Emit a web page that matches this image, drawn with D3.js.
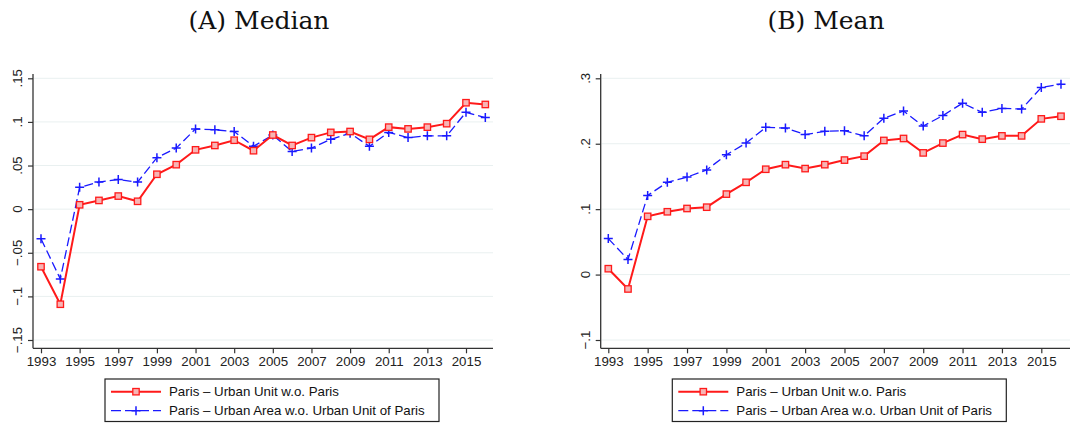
<!DOCTYPE html>
<html>
<head>
<meta charset="utf-8">
<script src="https://cdn.jsdelivr.net/npm/d3@7"></script>
<style>
  body { margin: 0; background: #fff; }
  svg { display: block; }
  .tick-label { font-family: "Liberation Sans", Arial, sans-serif; font-size: 13.3px; fill: #222; }
  .legend-text { font-family: "Liberation Sans", Arial, sans-serif; font-size: 13.3px; fill: #111; }
  .panel-title { font-family: "DejaVu Serif", serif; font-size: 25px; fill: #111; }
</style>
</head>
<body>
<div id="chart"></div>
<script>
// years on the x axis
const years = [1993, 1994, 1995, 1996, 1997, 1998, 1999, 2000, 2001, 2002, 2003, 2004,
               2005, 2006, 2007, 2008, 2009, 2010, 2011, 2012, 2013, 2014, 2015, 2016];
const xTickYears = [1993, 1995, 1997, 1999, 2001, 2003, 2005, 2007, 2009, 2011, 2013, 2015];

// (A) Median
const medianUrbanUnit = [-0.066, -0.109, 0.005, 0.010, 0.015, 0.009, 0.040, 0.051, 0.068, 0.073, 0.079, 0.067,
                         0.085, 0.073, 0.082, 0.088, 0.089, 0.080, 0.094, 0.092, 0.094, 0.098, 0.122, 0.120];
const medianUrbanArea = [-0.034, -0.080, 0.025, 0.031, 0.034, 0.031, 0.059, 0.070, 0.092, 0.091, 0.089, 0.072,
                         0.085, 0.066, 0.070, 0.080, 0.087, 0.072, 0.088, 0.082, 0.084, 0.084, 0.111, 0.105];
const medianTicks = [-0.15, -0.1, -0.05, 0, 0.05, 0.1, 0.15];
const medianTickLabels = ["\u2212.15", "\u2212.1", "\u2212.05", "0", ".05", ".1", ".15"];

// (B) Mean
const meanUrbanUnit = [0.009, -0.022, 0.089, 0.096, 0.101, 0.103, 0.123, 0.141, 0.161, 0.168, 0.162, 0.168,
                       0.175, 0.181, 0.205, 0.208, 0.186, 0.201, 0.214, 0.207, 0.212, 0.212, 0.238, 0.242];
const meanUrbanArea = [0.055, 0.023, 0.121, 0.141, 0.149, 0.160, 0.183, 0.201, 0.225, 0.224, 0.214, 0.219,
                       0.220, 0.212, 0.239, 0.250, 0.227, 0.243, 0.262, 0.248, 0.254, 0.253, 0.286, 0.291];
const meanTicks = [-0.1, 0, 0.1, 0.2, 0.3];
const meanTickLabels = ["\u2212.1", "0", ".1", ".2", ".3"];

const seriesNames = ["Paris \u2013 Urban Unit w.o. Paris", "Paris \u2013 Urban Area w.o. Urban Unit of Paris"];

const width = 1070, height = 424;
const red = "#ff1a1a", pink = "#f7b4b4", blue = "#1a1aff";

const svg = d3.select("#chart").append("svg")
    .attr("width", width)
    .attr("height", height);

function drawPanel(cfg) {
  const x = d3.scaleLinear().domain([1993, 2015]).range(cfg.xRange);
  const y = d3.scaleLinear().domain(cfg.yDomain).range([340, 78.3]);
  const g = svg.append("g");

  // clip so nothing leaks outside the plot region
  g.append("clipPath").attr("id", cfg.id + "-clip")
    .append("rect")
      .attr("x", cfg.left).attr("y", 60)
      .attr("width", cfg.right - cfg.left).attr("height", 290);

  // gridlines
  g.selectAll(".grid")
    .data(cfg.ticks)
    .join("line")
      .attr("x1", cfg.left + 1).attr("x2", cfg.right)
      .attr("y1", d => y(d)).attr("y2", d => y(d))
      .attr("stroke", "#e9f0f0")
      .attr("stroke-width", 1);

  // y axis
  const yAxis = g.append("g")
      .attr("transform", `translate(${cfg.left},0)`)
      .call(d3.axisLeft(y).tickValues(cfg.ticks).tickSize(5).tickFormat(""));
  yAxis.select(".domain").remove();
  yAxis.selectAll(".tick line").attr("stroke", "#333").attr("stroke-width", 1.2);
  g.selectAll(".ylab")
    .data(cfg.ticks)
    .join("text")
      .attr("class", "tick-label")
      .attr("text-anchor", "middle")
      .attr("transform", d => `translate(${cfg.left - 11},${y(d)}) rotate(-90)`)
      .text((d, i) => cfg.tickLabels[i]);

  // x axis
  const xAxis = g.append("g")
      .attr("transform", "translate(0,348.3)")
      .call(d3.axisBottom(x).tickValues(xTickYears).tickSize(5).tickFormat(d3.format("d")));
  xAxis.select(".domain").remove();
  xAxis.selectAll(".tick line").attr("stroke", "#333").attr("stroke-width", 1.2);
  xAxis.selectAll(".tick text")
      .attr("class", "tick-label")
      .attr("y", 8)
      .attr("dy", "0.71em");

  // axis lines
  g.append("line")
      .attr("x1", cfg.left).attr("x2", cfg.left)
      .attr("y1", 74).attr("y2", 348.3)
      .attr("stroke", "#333").attr("stroke-width", 1.3);
  g.append("line")
      .attr("x1", cfg.left).attr("x2", cfg.right)
      .attr("y1", 348.3).attr("y2", 348.3)
      .attr("stroke", "#333").attr("stroke-width", 1.3);

  const plot = g.append("g").attr("clip-path", `url(#${cfg.id}-clip)`);
  const line = d3.line().x((d, i) => x(years[i])).y(d => y(d));

  // blue dashed series with plus markers
  plot.append("path")
      .datum(cfg.area)
      .attr("d", line)
      .attr("fill", "none")
      .attr("stroke", blue)
      .attr("stroke-width", 1.3)
      .attr("stroke-dasharray", "9,4");
  plot.selectAll(".plus")
    .data(cfg.area)
    .join("path")
      .attr("class", "plus")
      .attr("d", (d, i) => {
        const cx = x(years[i]), cy = y(d);
        return `M${cx - 4.5},${cy}H${cx + 4.5}M${cx},${cy - 4.5}V${cy + 4.5}`;
      })
      .attr("stroke", blue)
      .attr("stroke-width", 1.5);

  // red solid series with square markers
  plot.append("path")
      .datum(cfg.unit)
      .attr("d", line)
      .attr("fill", "none")
      .attr("stroke", red)
      .attr("stroke-width", 2);
  plot.selectAll(".sq")
    .data(cfg.unit)
    .join("rect")
      .attr("class", "sq")
      .attr("x", (d, i) => x(years[i]) - 3.2)
      .attr("y", d => y(d) - 3.2)
      .attr("width", 6.4).attr("height", 6.4)
      .attr("fill", pink)
      .attr("stroke", red)
      .attr("stroke-width", 1.3);

  // title
  svg.append("text")
      .attr("class", "panel-title")
      .attr("x", cfg.titleX).attr("y", 29)
      .attr("text-anchor", "middle")
      .text(cfg.title);

  // legend
  const lg = svg.append("g").attr("transform", `translate(${cfg.legendX},379)`);
  lg.append("rect")
      .attr("x", 0).attr("y", 0)
      .attr("width", 334).attr("height", 42.5)
      .attr("fill", "#fff")
      .attr("stroke", "#222")
      .attr("stroke-width", 1.2);
  lg.append("line")
      .attr("x1", 6).attr("x2", 56).attr("y1", 12.7).attr("y2", 12.7)
      .attr("stroke", red).attr("stroke-width", 2);
  lg.append("rect")
      .attr("x", 31 - 3.2).attr("y", 12.7 - 3.2)
      .attr("width", 6.4).attr("height", 6.4)
      .attr("fill", pink).attr("stroke", red).attr("stroke-width", 1.3);
  lg.append("line")
      .attr("x1", 6).attr("x2", 56).attr("y1", 31.7).attr("y2", 31.7)
      .attr("stroke", blue).attr("stroke-width", 1.3)
      .attr("stroke-dasharray", "10,4");
  lg.append("path")
      .attr("d", "M26.5,31.7H35.5M31,27.2V36.2")
      .attr("stroke", blue).attr("stroke-width", 1.5);
  lg.selectAll(".legend-text")
    .data(seriesNames)
    .join("text")
      .attr("class", "legend-text")
      .attr("x", 64)
      .attr("y", (d, i) => 17.3 + i * 19)
      .text(d => d);
}

drawPanel({
  id: "median", title: "(A) Median",
  unit: medianUrbanUnit, area: medianUrbanArea,
  ticks: medianTicks, tickLabels: medianTickLabels,
  yDomain: [-0.15, 0.15],
  xRange: [41, 466], left: 33, right: 493,
  titleX: 259, legendX: 105
});

drawPanel({
  id: "mean", title: "(B) Mean",
  unit: meanUrbanUnit, area: meanUrbanArea,
  ticks: meanTicks, tickLabels: meanTickLabels,
  yDomain: [-0.1, 0.3],
  xRange: [608.3, 1041.3], left: 600.7, right: 1075,
  titleX: 826, legendX: 672.3
});
</script>
</body>
</html>
